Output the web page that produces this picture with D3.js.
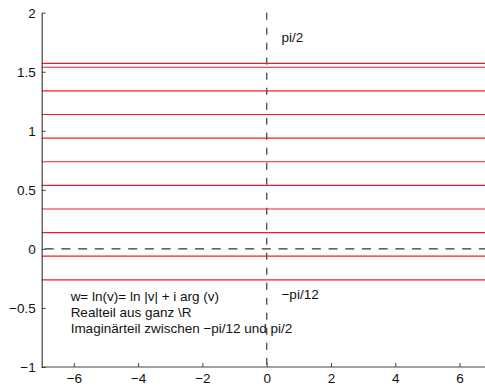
<!DOCTYPE html>
<html><head><meta charset="utf-8">
<script src="https://cdn.jsdelivr.net/npm/d3@7"></script>
<style>body{margin:0;background:#fff}svg{display:block;font-family:"Liberation Sans",Arial,sans-serif}</style>
</head><body><svg id="c" width="485" height="387"></svg>
<script>
const lineValues = [-0.262, -0.062, 0.138, 0.338, 0.538, 0.738, 0.938, 1.138, 1.338, 1.538, 1.571];
const xTicks = [-6, -4, -2, 0, 2, 4, 6];
const yTicks = [-1, -0.5, 0, 0.5, 1, 1.5, 2];
const xDomain = [-7, 7];
const yDomain = [-1, 2];
const annotations = [
  {x: 0.46, y: 1.75, text: "pi/2"},
  {x: 0.46, y: -0.42, text: "\u2212pi/12"}
];
const infoLines = ["w= ln(v)= ln |v| + i arg (v)", "Realteil aus ganz \\R", "Imagin\u00e4rteil zwischen \u2212pi/12 und pi/2"];

const svg = d3.select("#c");
const x = d3.scaleLinear().domain(xDomain).range([41.7, 491.7]);
const y = d3.scaleLinear().domain(yDomain).range([367, 12.7]);
const axisColor = "#444";

svg.append("g").selectAll("line").data(lineValues).join("line")
  .attr("x1", x(xDomain[0])).attr("x2", 485)
  .attr("y1", d => y(d)).attr("y2", d => y(d))
  .attr("stroke", "#ff1a1a").attr("stroke-width", 1.2);

svg.append("line").attr("x1", x(xDomain[0])).attr("x2", 485)
  .attr("y1", y(0)).attr("y2", y(0))
  .attr("stroke", "#000").attr("stroke-width", 1).attr("stroke-dasharray", "9,7.7")
  .attr("stroke-dashoffset", -3);

svg.append("line").attr("x1", x(0)).attr("x2", x(0))
  .attr("y1", y(2)).attr("y2", y(-1))
  .attr("stroke", "#555").attr("stroke-width", 1.4).attr("stroke-dasharray", "7,8");

const fmt = d => (d < 0 ? "\u2212" : "") + Math.abs(d);
const gx = svg.append("g").attr("transform", `translate(0,${y(-1)})`)
  .call(d3.axisBottom(x).tickValues(xTicks).tickFormat(fmt).tickSizeInner(-4).tickSizeOuter(0).tickPadding(6.5));
const gy = svg.append("g").attr("transform", `translate(${x(-7)},0)`)
  .call(d3.axisLeft(y).tickValues(yTicks).tickFormat(fmt).tickSizeInner(-4).tickSizeOuter(0).tickPadding(6));
[gx, gy].forEach(g => {
  g.select(".domain").attr("stroke", axisColor).attr("stroke-width", 1.2);
  g.selectAll(".tick line").attr("stroke", axisColor);
  g.selectAll("text").attr("fill", "#111").style("font-size", "13.5px").style("font-family", "'Liberation Sans',Arial,sans-serif");
});
gx.select(".domain").attr("d", `M${x(-7)},0H485`);

svg.append("g").selectAll("text").data(annotations).join("text")
  .attr("x", d => x(d.x)).attr("y", d => y(d.y))
  .attr("font-size", 13.5).attr("fill", "#111").text(d => d.text);

svg.append("g").selectAll("text").data(infoLines).join("text")
  .attr("x", x(-6.1)).attr("y", (d, i) => y(-0.445) + i * 15.6)
  .attr("font-size", 13.5).attr("fill", "#111").text(d => d);
</script></body></html>
